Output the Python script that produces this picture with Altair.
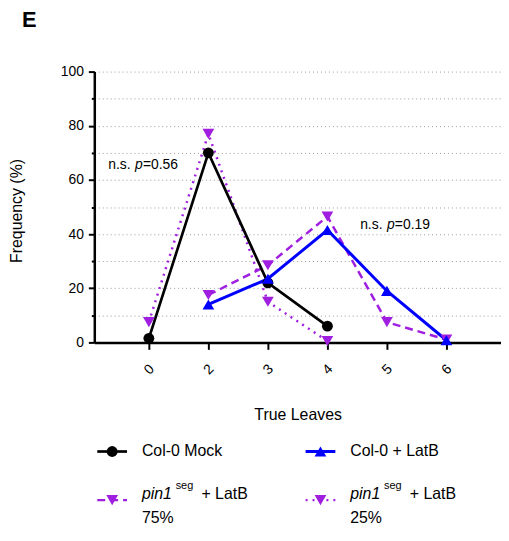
import altair as alt
import pandas as pd

# ---------------- data ----------------
categories = ["0", "2", "3", "4", "5", "6"]

mock_x = ["0", "2", "3", "4"]
mock_y = [1.5, 70.0, 22.0, 6.0]

latb_x = ["2", "3", "4", "5", "6"]
latb_y = [14.0, 23.5, 41.5, 19.0, 0.8]

pin75_x = ["2", "3", "4", "5", "6"]
pin75_y = [17.5, 28.5, 46.5, 7.5, 1.0]

pin25_x = ["0", "2", "3", "4"]
pin25_y = [7.5, 77.0, 15.0, 0.5]

y_ticks = list(range(0, 101, 10))

# ---------------- styling ----------------
W, H = 410, 273
FONT = "Liberation Sans"
PURPLE = "#A01EE0"
BLUE = "#0000FF"
BLACK = "#000000"

x_scale = alt.Scale(domain=categories, type="point", padding=0.917)
y_scale = alt.Scale(domain=[0, 100], nice=False, zero=True)

x_axis = alt.Axis(
    title="True Leaves", labelAngle=315, labelAlign="center", labelBaseline="middle",
    labelPadding=20, labelFontSize=14, labelFont=FONT, labelColor="black",
    tickSize=7, tickWidth=2, tickColor="black", domainWidth=2.5, domainColor="black",
    grid=False, titleFont=FONT, titleFontSize=16, titleFontWeight="normal",
    titleColor="black", titleX=205, titleY=73, titleAlign="center", titleBaseline="middle",
)
y_axis = alt.Axis(
    title="Frequency (%)", values=y_ticks,
    labelExpr="datum.value % 20 == 0 ? datum.label : ''",
    labelFontSize=14, labelFont=FONT, labelColor="black", labelPadding=5,
    tickSize={"condition": {"test": "datum.value % 20 == 0", "value": 6}, "value": 3},
    tickWidth=2, tickColor="black", domainWidth=2.5, domainColor="black",
    grid=True, gridDash=[1, 3], gridColor="#9a9a9a", gridWidth=1,
    titleFont=FONT, titleFontSize=16, titleFontWeight="normal", titleColor="black",
    titleAngle=270, titleX=-78, titleY=140, titleAlign="center", titleBaseline="middle",
)


def series(xs, ys, color, shape, dash, width, size):
    df = pd.DataFrame({"leaves": xs, "freq": ys})
    base = alt.Chart(df).encode(
        x=alt.X("leaves:O", scale=x_scale, sort=categories, axis=x_axis),
        y=alt.Y("freq:Q", scale=y_scale, axis=y_axis),
    )
    kw = dict(color=color, strokeWidth=width)
    if dash:
        kw["strokeDash"] = dash
    line = base.mark_line(**kw)
    pts = base.mark_point(shape=shape, filled=True, color=color, size=size,
                          opacity=1, strokeWidth=0)
    return line, pts


l25, p25 = series(pin25_x, pin25_y, PURPLE, "triangle-down", [2, 5], 2.5, 140)
l75, p75 = series(pin75_x, pin75_y, PURPLE, "triangle-down", [8, 5], 2.5, 140)
lmk, pmk = series(mock_x, mock_y, BLACK, "circle", None, 2.7, 120)
llb, plb = series(latb_x, latb_y, BLUE, "triangle-up", None, 3, 140)

one = pd.DataFrame({"k": [0]})


def txt(t, x, y, size=14, style="normal", weight="normal", align="left"):
    return alt.Chart(pd.DataFrame({"t": [t]})).mark_text(
        align=align, baseline="middle", fontSize=size, fontStyle=style,
        fontWeight=weight, font=FONT, color="black",
    ).encode(x=alt.value(x), y=alt.value(y), text="t:N")


def leg_symbol(x0, x1, y, color, shape, dash, width, size):
    kw = dict(color=color, strokeWidth=width)
    if dash:
        kw["strokeDash"] = dash
    r = alt.Chart(one).mark_rule(**kw).encode(
        x=alt.value(x0), x2=alt.value(x1), y=alt.value(y))
    p = alt.Chart(one).mark_point(shape=shape, filled=True, color=color, size=size,
                                  opacity=1, strokeWidth=0).encode(
        x=alt.value((x0 + x1) / 2), y=alt.value(y))
    return r + p


annotations = [
    txt("n.s.", 14, 94), txt("p", 41, 94, style="italic"), txt("=0.56", 49, 94),
    txt("n.s.", 268, 155), txt("p", 295, 155, style="italic"), txt("=0.19", 303, 155),
    txt("E", -73, -52, size=22, weight="bold"),
]

legend = [
    leg_symbol(3, 33, 383, BLACK, "circle", None, 2.7, 120),
    txt("Col-0 Mock", 48, 383, size=16),
    leg_symbol(213, 243, 383, BLUE, "triangle-up", None, 3, 140),
    txt("Col-0 + LatB", 258, 383, size=16),
    leg_symbol(3, 33, 432, PURPLE, "triangle-down", [8, 5], 2.5, 140),
    txt("pin1", 48, 426, size=16, style="italic"),
    txt("seg", 82, 418, size=11),
    txt("+ LatB", 108, 426, size=16),
    txt("75%", 48, 450, size=16),
    leg_symbol(213, 243, 432, PURPLE, "triangle-down", [2, 5], 2.5, 140),
    txt("pin1", 258, 426, size=16, style="italic"),
    txt("seg", 292, 418, size=11),
    txt("+ LatB", 318, 426, size=16),
    txt("25%", 258, 450, size=16),
]

chart = alt.layer(
    l25, l75, lmk, llb, p25, p75, pmk, plb, *annotations, *legend
).properties(
    width=W, height=H,
    padding={"left": 87, "top": 62, "right": 0, "bottom": 185},
    autosize=alt.AutoSizeParams(type="none"),
    background="white",
).configure_view(stroke=None)

chart.save("out.html", embed_options={"renderer": "svg", "actions": False})
